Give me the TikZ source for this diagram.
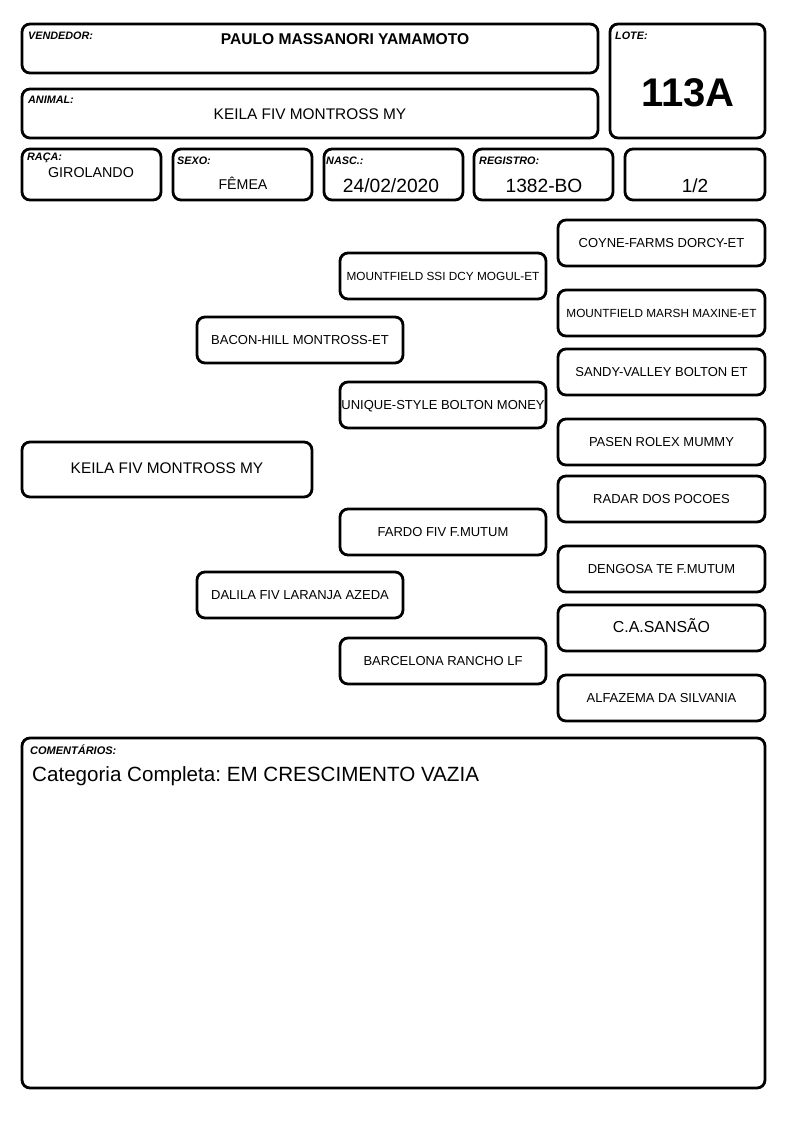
\documentclass[tikz,border=0pt]{standalone}
\usepackage{fontspec}
\setmainfont{Liberation Sans}
\frenchspacing
\usetikzlibrary{positioning}
\tikzset{x=1pt,y=-1pt}
\tikzset{caixa/.style={draw,line width=2.8pt,rounded corners=8pt,inner sep=0pt}}
\tikzset{rotulo/.style={font=\fontsize{10.8}{11}\selectfont\bfseries\itshape,inner sep=0pt,anchor=base west}}
\tikzset{valor/.style={inner sep=0pt,anchor=base}}
\tikzset{animal/.style={caixa,minimum width=206pt,minimum height=46pt,
        text height=.87em,text depth=0pt,font=\fontsize{13}{13}\selectfont}}
\tikzset{avo/.style={animal,minimum width=207pt}}
\tikzset{miuda/.style={font=\fontsize{11.8}{12}\selectfont}}

\begin{document}
\begin{tikzpicture}
    \useasboundingbox (0,0) rectangle (794,1123);
    % cabecalho
    \node[caixa,minimum width=576pt,minimum height=49pt] (vendedor) at (310,48.5) {};
    \node[caixa,minimum width=155pt,minimum height=114pt] (lote) at (687.5,81) {};
    \node[caixa,minimum width=576pt,minimum height=49pt] (nome) at (310,113.5) {};
    \node[caixa,minimum width=139pt,minimum height=51pt] (raca) at (91.5,174.5) {};
    \node[caixa,minimum width=139pt,minimum height=51pt] (sexo) at (242.5,174.5) {};
    \node[caixa,minimum width=139pt,minimum height=51pt] (nasc) at (393.5,174.5) {};
    \node[caixa,minimum width=139pt,minimum height=51pt] (registro) at (543.5,174.5) {};
    \node[caixa,minimum width=140pt,minimum height=51pt] (grau) at (695,174.5) {};

    \node[rotulo] at (28,39.5) {VENDEDOR:};
    \node[rotulo] at (615,39.5) {LOTE:};
    \node[rotulo] at (28,104) {ANIMAL:};
    \node[rotulo] at (27,161) {RAÇA:};
    \node[rotulo] at (177,165) {SEXO:};
    \node[rotulo] at (326,165) {NASC.:};
    \node[rotulo] at (479,165) {REGISTRO:};

    \node[valor,font=\fontsize{15.6}{16}\selectfont\bfseries] at (345,45) {PAULO MASSANORI YAMAMOTO};
    \node[valor,font=\fontsize{40}{40}\selectfont\bfseries] at (688,107) {113A};
    \node[valor,font=\fontsize{15.4}{16}\selectfont] at (310,120) {KEILA FIV MONTROSS MY};
    \node[valor,font=\fontsize{14.3}{15}\selectfont] at (91,178) {GIROLANDO};
    \node[valor,font=\fontsize{14.2}{15}\selectfont] at (243,190) {FÊMEA};
    \node[valor,font=\fontsize{19.2}{20}\selectfont] at (391,193) {24/02/2020};
    \node[valor,font=\fontsize{19.2}{20}\selectfont] at (544,193) {1382-BO};
    \node[valor,font=\fontsize{19}{20}\selectfont] at (695,193) {1/2};

    % genealogia
    \node[animal,minimum width=290pt,minimum height=55pt,font=\fontsize{15.4}{16}\selectfont] (keila) at (167,469.5) {KEILA FIV MONTROSS MY};
    \node[animal] (pai) at (300,340) {BACON-HILL MONTROSS-ET};
    \node[animal] (mae) at (300,595) {DALILA FIV LARANJA AZEDA};
    \node[animal,miuda] (avopp) at (443,276) {MOUNTFIELD SSI DCY MOGUL-ET};
    \node[animal] (avopm) at (443,405) {UNIQUE-STYLE BOLTON MONEY};
    \node[animal] (avomp) at (443,532) {FARDO FIV F.MUTUM};
    \node[animal] (avomm) at (443,661) {BARCELONA RANCHO LF};
    \node[avo] (bis1) at (661.5,243) {COYNE-FARMS DORCY-ET};
    \node[avo,miuda] (bis2) at (661.5,313) {MOUNTFIELD MARSH MAXINE-ET};
    \node[avo] (bis3) at (661.5,372) {SANDY-VALLEY BOLTON ET};
    \node[avo] (bis4) at (661.5,442) {PASEN ROLEX MUMMY};
    \node[avo] (bis5) at (661.5,499) {RADAR DOS POCOES};
    \node[avo] (bis6) at (661.5,569) {DENGOSA TE F.MUTUM};
    \node[avo,font=\fontsize{15.9}{16}\selectfont] (bis7) at (661.5,628) {C.A.SANSÃO};
    \node[avo] (bis8) at (661.5,698) {ALFAZEMA DA SILVANIA};

    % comentarios
    \node[caixa,minimum width=743pt,minimum height=350pt] (comentarios) at (393.5,913) {};
    \node[rotulo,font=\fontsize{11}{11}\selectfont\bfseries\itshape] at (30,754) {COMENTÁRIOS:};
    \node[valor,anchor=base west,font=\fontsize{20.6}{21}\selectfont] at (32,781) {Categoria Completa: EM CRESCIMENTO VAZIA};
\end{tikzpicture}
\end{document}
